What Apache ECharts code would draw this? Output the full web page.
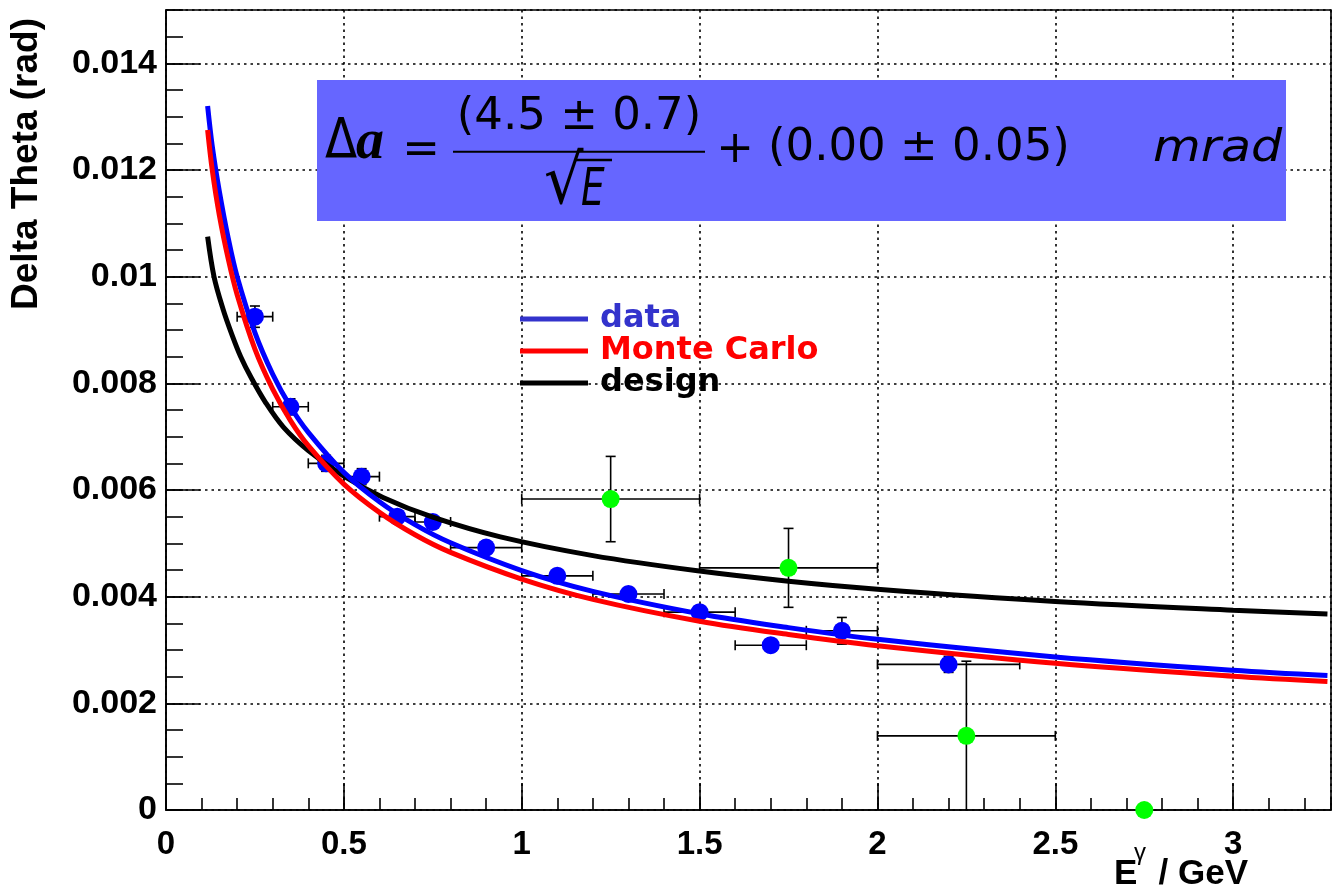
<!DOCTYPE html>
<html><head><meta charset="utf-8">
<script src="https://cdn.jsdelivr.net/npm/echarts@6/dist/echarts.min.js"></script>
<style>html,body{margin:0;padding:0;background:#fff}#c{width:1335px;height:890px}</style>
</head><body><div id="c"></div>
<script>
// ---- tick labels ----
const xTickLabels = ['0', '0.5', '1', '1.5', '2', '2.5', '3'];
const yTickLabels = ['0', '0.002', '0.004', '0.006', '0.008', '0.01', '0.012', '0.014'];

// ---- measured points (blue) : E, Delta theta, errors ----
const blueE    = [0.25, 0.35, 0.45, 0.55, 0.65, 0.75, 0.9, 1.1, 1.3, 1.5, 1.7, 1.9, 2.2];
const blueY    = [0.00925, 0.00756, 0.0065, 0.00625, 0.0055, 0.0054, 0.00492, 0.00439, 0.00405, 0.00371, 0.00309, 0.00336, 0.00273];
const blueEErr = [0.05, 0.05, 0.05, 0.05, 0.05, 0.05, 0.1, 0.1, 0.1, 0.1, 0.1, 0.1, 0.2];
const blueYErr = [0.0002, 0.00015, 0.00015, 0.00015, 0.00012, 0.00012, 0.00012, 0.00012, 0.00012, 0.00012, 0.00012, 0.00025, 0.00015];

// ---- green points ----
const greenE    = [1.25, 1.75, 2.25, 2.75];
const greenY    = [0.00583, 0.00454, 0.00139, 0.0];
const greenEErr = [0.25, 0.25, 0.25, 0];
const greenYErr = [0.0008, 0.00074, 0.0014, 0];

// ---- curves ----
const dataCurveE = [0.117, 0.13, 0.15, 0.175, 0.2, 0.25, 0.3, 0.35, 0.4, 0.5, 0.6, 0.7, 0.8, 1.0, 1.2, 1.5, 1.75, 2.0, 2.5, 3.0, 3.265];
const dataCurveY = [0.0132, 0.01245, 0.0116, 0.01072, 0.0100, 0.00895, 0.00817, 0.00756, 0.00708, 0.00633, 0.00578, 0.00535, 0.00501, 0.00449, 0.0041, 0.00368, 0.00342, 0.0032, 0.00287, 0.00262, 0.00252];
const mcCurveE   = [0.117, 0.13, 0.15, 0.175, 0.2, 0.25, 0.3, 0.35, 0.4, 0.5, 0.6, 0.7, 0.8, 1.0, 1.2, 1.5, 1.75, 2.0, 2.5, 3.0, 3.265];
const mcCurveY   = [0.01275, 0.0120, 0.01115, 0.01033, 0.00966, 0.00864, 0.00789, 0.0073, 0.00683, 0.00611, 0.00558, 0.00516, 0.00483, 0.00433, 0.00395, 0.00354, 0.00329, 0.00308, 0.00275, 0.00251, 0.00241];
const desCurveE  = [0.117, 0.135, 0.16, 0.185, 0.21, 0.24, 0.28, 0.33, 0.4, 0.5, 0.61, 0.75, 0.94, 1.2, 1.5, 1.75, 2.0, 2.5, 3.0, 3.265];
const desCurveY  = [0.01075, 0.0100, 0.0094, 0.00892, 0.0085, 0.0081, 0.00764, 0.00718, 0.00674, 0.00626, 0.00586, 0.00549, 0.00512, 0.00477, 0.00448, 0.00429, 0.00414, 0.00391, 0.003745, 0.003675];

const zip = (a, b) => a.map((v, i) => [v, b[i]]);
const zip4 = (a, b, c, d) => a.map((v, i) => [v, b[i], c[i], d[i]]);

function errRender(params, api) {
  const x = api.value(0), y = api.value(1), ex = api.value(2), ey = api.value(3);
  const st = { stroke: '#000', lineWidth: 1.6 };
  const ch = [];
  const cap = 5;
  if (ex > 0) {
    const a = api.coord([x - ex, y]), b = api.coord([x + ex, y]);
    ch.push({ type: 'line', shape: { x1: a[0], y1: a[1], x2: b[0], y2: b[1] }, style: st });
    ch.push({ type: 'line', shape: { x1: a[0], y1: a[1] - cap, x2: a[0], y2: a[1] + cap }, style: st });
    ch.push({ type: 'line', shape: { x1: b[0], y1: b[1] - cap, x2: b[0], y2: b[1] + cap }, style: st });
  }
  if (ey > 0) {
    const lo = Math.max(0, y - ey);
    const a = api.coord([x, lo]), b = api.coord([x, y + ey]);
    ch.push({ type: 'line', shape: { x1: a[0], y1: a[1], x2: b[0], y2: b[1] }, style: st });
    if (lo > 0) ch.push({ type: 'line', shape: { x1: a[0] - cap, y1: a[1], x2: a[0] + cap, y2: a[1] }, style: st });
    ch.push({ type: 'line', shape: { x1: b[0] - cap, y1: b[1], x2: b[0] + cap, y2: b[1] }, style: st });
  }
  return { type: 'group', children: ch };
}

const chart = echarts.init(document.getElementById('c'), null, { renderer: 'canvas' });
const gridLine = { show: true, lineStyle: { color: '#000', width: 1.6, type: [2.5, 4] } };
const boldLab = { fontFamily: 'Liberation Sans', fontWeight: 'bold', color: '#000' };
const fml = '"DejaVu Sans"';

const option = {
  animation: false,
  backgroundColor: '#fff',
  grid: { left: 166, right: 4, top: 10, bottom: 80, show: true, borderColor: '#000', borderWidth: 1.6, outerBoundsMode: 'none', containLabel: false },
  xAxis: [
    { type: 'value', min: 0, max: 3.275, interval: 0.5, position: 'bottom',
      axisLine: { show: true, lineStyle: { color: '#000', width: 1.6 } },
      axisTick: { show: true, inside: true, length: 27, lineStyle: { color: '#000', width: 1.6 } },
      axisLabel: Object.assign({ fontSize: 33, margin: 18, showMaxLabel: false,
        formatter: v => { const i = Math.round(v / 0.5); return Math.abs(i * 0.5 - v) < 1e-6 ? (xTickLabels[i] || '') : ''; } }, boldLab),
      splitLine: gridLine },
    { type: 'value', min: 0, max: 3.275, interval: 0.1, position: 'bottom',
      axisLine: { show: false },
      axisTick: { show: true, inside: true, length: 12, lineStyle: { color: '#000', width: 1.6 } },
      axisLabel: { show: false }, splitLine: { show: false } }
  ],
  yAxis: [
    { type: 'value', min: 0, max: 0.015, interval: 0.002, position: 'left',
      axisLine: { show: true, lineStyle: { color: '#000', width: 1.6 } },
      axisTick: { show: true, inside: true, length: 34, lineStyle: { color: '#000', width: 1.6 } },
      axisLabel: Object.assign({ fontSize: 34, margin: 9, showMaxLabel: false,
        formatter: v => { const i = Math.round(v / 0.002); return Math.abs(i * 0.002 - v) < 1e-9 ? (yTickLabels[i] || '') : ''; } }, boldLab),
      splitLine: gridLine },
    { type: 'value', min: 0, max: 0.015, interval: 0.0005, position: 'left',
      axisLine: { show: false },
      axisTick: { show: true, inside: true, length: 17, lineStyle: { color: '#000', width: 1.6 } },
      axisLabel: { show: false }, splitLine: { show: false } }
  ],
  legend: {
    orient: 'vertical', left: 520, top: 303, itemWidth: 68, itemHeight: 5, itemGap: 0, padding: 0,
    icon: 'rect', selectedMode: false,
    textStyle: { fontFamily: 'DejaVu Sans', fontWeight: 'bold', fontSize: 32, lineHeight: 32, padding: [0, 0, 0, 7] },
    data: [
      { name: 'data', itemStyle: { color: '#3333cc' }, textStyle: { color: '#3333cc' } },
      { name: 'Monte Carlo', itemStyle: { color: '#ff0000' }, textStyle: { color: '#ff0000' } },
      { name: 'design', itemStyle: { color: '#000000' }, textStyle: { color: '#000000' } }
    ]
  },
  series: [
    { name: 'blue errors', type: 'custom', renderItem: errRender, data: zip4(blueE, blueY, blueEErr, blueYErr), encode: { x: 0, y: 1 }, z: 1, clip: false },
    { name: 'green errors', type: 'custom', renderItem: errRender, data: zip4(greenE, greenY, greenEErr, greenYErr), encode: { x: 0, y: 1 }, z: 1, clip: false },
    { name: 'blue points', type: 'scatter', data: zip(blueE, blueY), symbol: 'circle', symbolSize: 18, itemStyle: { color: '#0000ff', opacity: 1 }, z: 2, clip: false },
    { name: 'green points', type: 'scatter', data: zip(greenE, greenY), symbol: 'circle', symbolSize: 18, itemStyle: { color: '#00ff00', opacity: 1 }, z: 2, clip: false },
    { name: 'design', type: 'line', data: zip(desCurveE, desCurveY), smooth: 0.35, showSymbol: false, symbol: 'none', lineStyle: { color: '#000000', width: 5 }, itemStyle: { color: '#000000' }, z: 3 },
    { name: 'data', type: 'line', data: zip(dataCurveE, dataCurveY), smooth: 0.35, showSymbol: false, symbol: 'none', lineStyle: { color: '#0000ff', width: 5 }, itemStyle: { color: '#3333cc' }, z: 4 },
    { name: 'Monte Carlo', type: 'line', data: zip(mcCurveE, mcCurveY), smooth: 0.35, showSymbol: false, symbol: 'none', lineStyle: { color: '#ff0000', width: 5 }, itemStyle: { color: '#ff0000' }, z: 5 }
  ],
  graphic: [
    // axis titles
    { type: 'text', x: 27, y: 18, rotation: Math.PI / 2, z: 20,
      style: { text: 'Delta Theta (rad)', font: 'bold 37px "Liberation Sans"', fill: '#000', align: 'right', verticalAlign: 'middle' } },
    { type: 'text', x: 1114, y: 874, z: 20,
      style: { text: 'E', font: 'bold 35px "Liberation Sans"', fill: '#000', align: 'left', verticalAlign: 'middle' } },
    { type: 'text', x: 1134, y: 853, z: 20,
      style: { text: 'γ', font: '24px "Liberation Sans"', fill: '#000', align: 'left', verticalAlign: 'middle' } },
    { type: 'text', x: 1248, y: 874, z: 20,
      style: { text: '/ GeV', font: 'bold 35px "Liberation Sans"', fill: '#000', align: 'right', verticalAlign: 'middle' } },
    // formula box
    { type: 'rect', shape: { x: 317, y: 80, width: 969, height: 141 }, style: { fill: '#6666ff' }, z: 10 },
    { type: 'text', x: 325, y: 142.5, scaleX: 0.84, z: 11, style: { text: 'Δ', font: '56px ' + fml, fill: '#000', align: 'left', verticalAlign: 'middle' } },
    { type: 'text', x: 356, y: 143.7, z: 11, style: { text: 'a', font: 'italic bold 56px "Liberation Serif"', fill: '#000', align: 'left', verticalAlign: 'middle' } },
    { type: 'text', x: 421, y: 151, z: 11, style: { text: '=', font: '45px ' + fml, fill: '#000', align: 'center', verticalAlign: 'middle' } },
    { type: 'text', x: 579, y: 117.5, z: 11, style: { text: '(4.5 ± 0.7)', font: '45px ' + fml, fill: '#000', align: 'center', verticalAlign: 'middle' } },
    { type: 'line', shape: { x1: 453, y1: 151.7, x2: 705, y2: 151.7 }, style: { stroke: '#000', lineWidth: 2 }, z: 11 },
    { type: 'text', x: 544, y: 185, scaleY: 1.1, z: 11, style: { text: '√', font: '62px ' + fml, fill: '#000', align: 'left', verticalAlign: 'middle' } },
    { type: 'line', shape: { x1: 576, y1: 160, x2: 612, y2: 160 }, style: { stroke: '#000', lineWidth: 2.5 }, z: 11 },
    { type: 'text', x: 581, y: 191, scaleX: 0.72, z: 11, style: { text: 'E', font: 'italic 52px ' + fml, fill: '#000', align: 'left', verticalAlign: 'middle' } },
    { type: 'text', x: 735, y: 150, z: 11, style: { text: '+', font: '45px ' + fml, fill: '#000', align: 'center', verticalAlign: 'middle' } },
    { type: 'text', x: 768, y: 148.3, z: 11, style: { text: '(0.00 ± 0.05)', font: '45px ' + fml, fill: '#000', align: 'left', verticalAlign: 'middle' } },
    { type: 'text', x: 1153, y: 149.4, scaleX: 1.09, z: 11, style: { text: 'mrad', font: 'italic 45px ' + fml, fill: '#000', align: 'left', verticalAlign: 'middle' } }
  ]
};
chart.setOption(option);
</script>
</body></html>
